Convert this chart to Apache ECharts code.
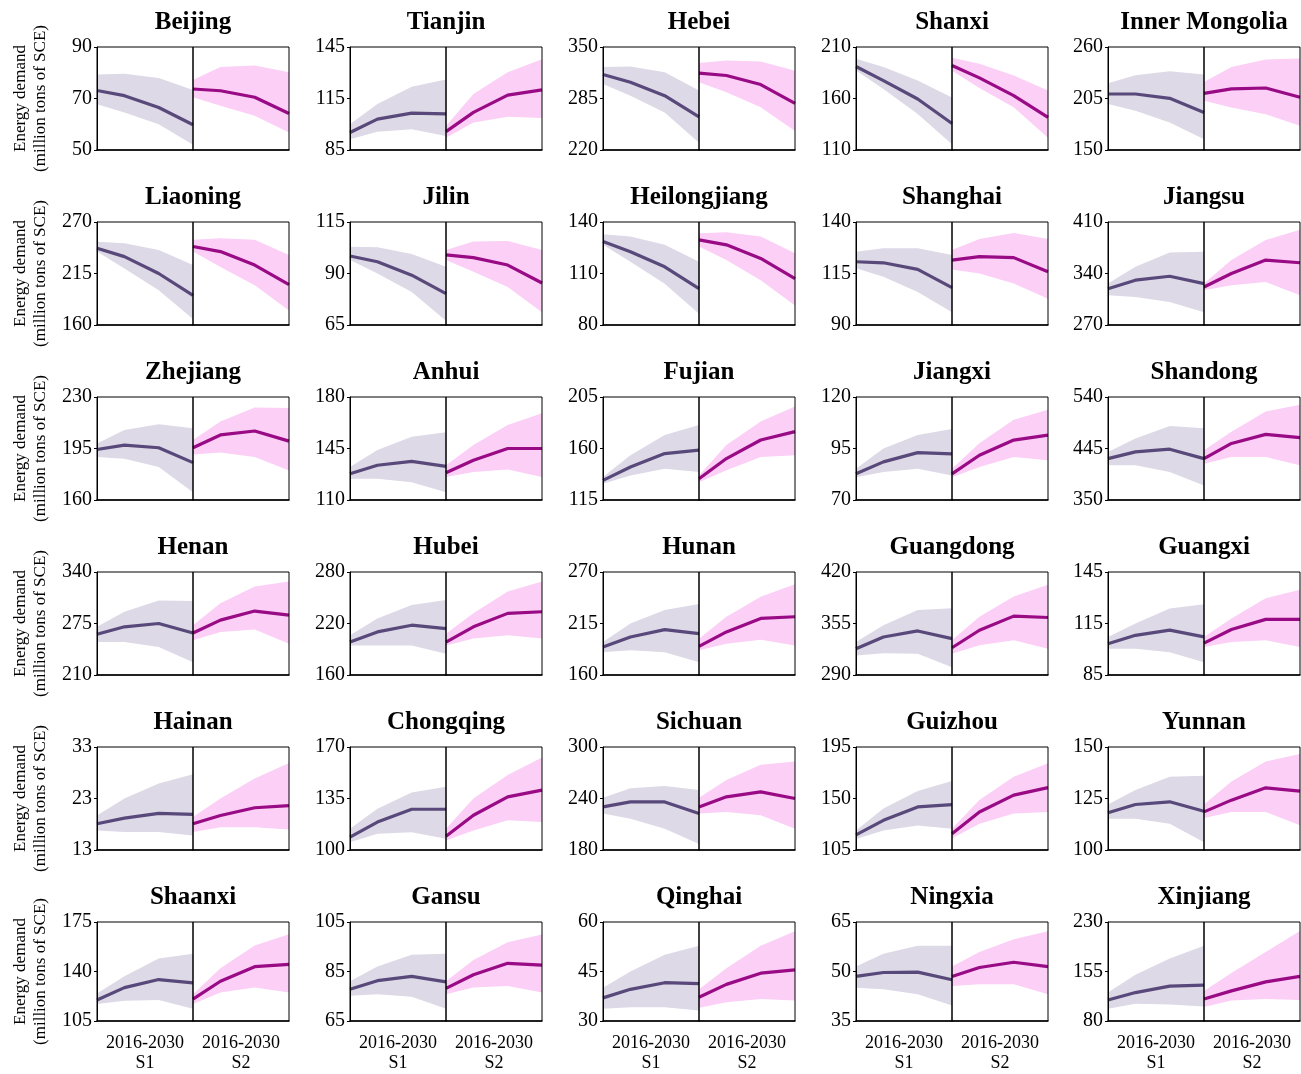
<!DOCTYPE html>
<html>
<head>
<meta charset="utf-8">
<script src="https://cdn.jsdelivr.net/npm/echarts@6/dist/echarts.min.js"></script>
<style>
html,body{margin:0;padding:0;background:#fff;}
#chart{width:1301px;height:1074px;}
</style>
</head>
<body>
<div id="chart"></div>
<script>
const provinces = ['Beijing','Tianjin','Hebei','Shanxi','Inner Mongolia',
  'Liaoning','Jilin','Heilongjiang','Shanghai','Jiangsu',
  'Zhejiang','Anhui','Fujian','Jiangxi','Shandong',
  'Henan','Hubei','Hunan','Guangdong','Guangxi',
  'Hainan','Chongqing','Sichuan','Guizhou','Yunnan',
  'Shaanxi','Gansu','Qinghai','Ningxia','Xinjiang'];
const years = [2016, 2020, 2025, 2030];
const yMin = [50,85,220,110,150, 160,65,80,90,270, 160,110,115,70,350, 210,160,160,290,85, 13,100,180,105,100, 105,65,30,35,80];
const yMax = [90,145,350,210,260, 270,115,140,140,410, 230,180,205,120,540, 340,280,270,420,145, 33,170,300,195,150, 175,105,60,65,230];
const scenarioLabels = ['2016-2030\nS1', '2016-2030\nS2'];
const yAxisName = 'Energy demand\n(million tons of SCE)';

const s1Line = [
 [73.1,71.1,66.5,59.8],[95.2,103,106.5,106.1],[315.3,305.5,288.6,261.9],[191.1,177.4,159.5,135.7],[209.8,209.8,205.2,190.1],
 [242,233,215,191.6],[98.5,95.7,89.2,80.2],[128.6,122.7,113.9,101.2],[120.7,120.2,117,108.1],[319.4,330.9,336.3,326.3],
 [194.3,197.3,195.5,185.4],[127.8,133.6,136.3,132.9],[132.1,143.8,155.6,158.5],[82.7,88.5,93,92.4],[426.4,438.7,443.7,426.4],
 [261.4,270.8,275,263],[198.4,210.2,218,214.1],[189.8,200.6,208.5,204.2],[323.1,338,345.6,335.9],[103.2,108.1,111.1,107.2],
 [18.1,19.2,20.1,19.9],[108.7,119,127.7,127.7],[230.2,236,236,222.4],[118.2,130.9,142.6,144.7],[118.1,122.1,123.4,118.8],
 [119.9,128.6,134.3,132],[77.8,81.3,83,80.8],[37,39.6,41.6,41.3],[48.5,49.7,49.8,47.5],[111.9,123.1,132.9,134.4]
];
const s1Upper = [
 [79.3,79.6,78,73.3],[100,111.8,121.9,126],[324.6,325.4,318,295],[198.6,190.5,177.4,161],[221.4,229.7,234,230.6],
 [249,247.4,240,224],[103,102.7,99.5,93.3],[132.9,131.6,126.7,116.9],[125.6,127.3,127.3,124],[326.3,349.2,368.4,369.7],
 [198.4,207.6,211.5,208.7],[132.4,143.9,153,156],[135,154.2,171.8,180.6],[85.2,95,101.5,104.5],[438.7,463.6,486.6,482.2],
 [270.8,289.9,303.9,303.5],[206.3,225.9,241.6,247.5],[195.2,215,229.4,235.9],[331.6,352.9,372,374.1],[107.2,115,123.8,126.2],
 [19.7,23,25.9,27.7],[114.4,128.1,139.1,143],[240.8,251.8,254.5,249.8],[122.1,141.2,156.5,165.3],[122.1,129.1,135.6,136],
 [124.5,136.6,149.2,152.6],[81.1,87,91.8,92.2],[40.1,45,50.1,52.8],[51.5,55.4,57.8,57.8],[123.1,150,174.6,194.2]
];
const s1Lower = [
 [67.8,64.6,60,52],[91.3,95.7,97.1,93.2],[303.4,288.6,267.4,229.3],[187.2,169.3,144.9,115.5],[199,191.9,179.4,161.5],
 [238.4,220.4,197,166.5],[96.5,90,81,67.1],[126.7,116.9,104.1,86.5],[117.5,113.4,106,96.2],[310.3,308,301.1,287.4],
 [189.3,188.1,182.4,165.3],[124.4,124.4,122.1,115.3],[129.1,136.5,142.4,139.4],[81.1,83.6,85.2,81.9],[414,414,401.5,376.7],
 [251.6,251.6,245.3,226.1],[194.5,194.5,194.5,184.7],[184.4,186.3,184.4,173.7],[314.7,317.6,316.8,299.8],[100.3,100.3,98.3,92.4],
 [16.8,16.5,16.5,15.8],[105.3,111,112.1,107.6],[222.4,216.5,204.7,187.1],[114.7,122.1,126.5,123.5],[115.2,115.2,112.7,103.8],
 [117.1,119.4,119.9,113.7],[75.2,75.8,74.8,70],[33.7,34.2,34.2,33.2],[45.1,44.6,43.1,39.7],[98.6,106,105,102]
];
const s2Line = [
 [73.7,73,70.5,64.2],[95.7,106.9,117,120],[317,314,302.6,278.9],[192.1,180,162.8,141.6],[210.5,215.2,216.2,206.3],
 [243.8,238.4,224,203],[99,97.7,94.1,85.4],[129.6,126.7,118.8,107],[121.5,123.2,122.7,115.8],[321.7,340,358.3,354.6],
 [195.5,204.2,206.9,200],[128.5,137,145,145],[133.5,151.2,167.4,174.7],[82.7,91.7,99.1,101.5],[426.4,454.3,471,464.9],
 [263,279.3,290.7,285.6],[198.4,216.1,231.8,233.7],[190.6,206,220.4,222.2],[324.4,346.5,364.3,362.6],[103.6,111.5,117.4,117.4],
 [18.1,19.7,21.2,21.6],[109.4,123.6,136.1,140.7],[230.2,241.9,247.8,240],[119.1,138.2,153,159.5],[118.5,124.2,130.2,128.6],
 [120.5,133.1,143.4,145],[78.2,83.7,88.3,87.6],[37.2,41.1,44.5,45.5],[48.5,51.2,52.8,51.5],[113.3,125.6,139.3,147.6]
];
const s2Upper = [
 [77.2,82.2,82.8,80.2],[99,117.6,130.3,137.8],[329.7,333,331.8,320],[199.6,193.7,182.3,167.7],[222.5,238.7,246.6,247.7],
 [251,252.7,251,234.8],[101.4,105.5,105.8,101.4],[133.5,134.1,131.6,121.8],[126.4,131.7,134.6,131.7],[326.3,358.3,385.7,399.4],
 [200.7,213.3,222.9,222.5],[133.6,147.3,161,169],[136.5,163,183.5,196.7],[85.2,97.5,108.9,113.8],[441.9,476,513.2,525.7],
 [272.9,300.5,321.7,328],[208.2,231.8,257.3,269],[198.8,222.2,243.7,257],[333.8,363.5,389,403.9],[107.2,117.9,129.7,134.6],
 [19.4,23,26.9,29.9],[114.4,135,151,162.9],[240.8,261.6,279.2,283.1],[123.5,148.6,169.1,180.9],[122.1,133.2,143,146.6],
 [124,142.3,158.3,166.3],[81.1,89.6,96.8,100],[39.6,46,52.8,57.2],[51.5,55.9,59.8,62.2],[125.6,152.6,184.4,216.2]
];
const s2Lower = [
 [70.5,67.2,63.3,56.8],[92.2,101,104.4,103.6],[305.5,292.8,273.8,244],[187,170.3,151.5,122],[202.6,195.4,188.3,175.8],
 [238.4,222,202.4,175.5],[96.5,90.8,83.5,71.2],[125.7,117.8,106.1,91.4],[117,115,110.1,102.7],[317.1,324,328.6,310.3],
 [190.9,192.3,189.3,180.1],[125.6,129,130.8,125.6],[130.6,140.9,152.6,154.1],[81.1,86,90.9,89.3],[417,429.5,429.5,414],
 [253.8,264.4,267.4,249.5],[194.5,202.4,206.3,202.4],[186.3,193.4,197.7,191.6],[316.8,327.4,333.8,323.1],[101.3,104.2,105.2,101.3],
 [16.5,17.4,17.4,17],[106.4,113.3,120.2,119],[222.4,224.3,220.4,204.7],[115.3,128,136.8,138.2],[115.5,118.5,118.5,112],
 [117.1,125.2,128.6,125.2],[75.8,78.5,79.1,76.5],[34,35.7,36.7,36.2],[45.6,46.1,46.1,43.1],[101.1,110.9,113.3,111.9]
];

// ---- layout & style (not data) ----
const colLeft = [97, 350, 603, 856, 1108];
const halfW = 96, plotH = 103, rowTop0 = 47, rowStep = 175;
const FONT = 'Liberation Serif';
const styles = [
  {band: '#ddd9e7', line: '#58497a'},
  {band: '#fbcff6', line: '#990a85'}
];
const lineSets = [[s1Line, s1Upper, s1Lower], [s2Line, s2Upper, s2Lower]];

function bandRenderer(up, lo, color) {
  return function (params, api) {
    if (params.dataIndex !== 0) return null;
    const pts = [];
    for (let k = 0; k < years.length; k++) pts.push(api.coord([years[k], up[k]]));
    for (let k = years.length - 1; k >= 0; k--) pts.push(api.coord([years[k], lo[k]]));
    return {type: 'polygon', shape: {points: pts}, style: {fill: color, stroke: null}};
  };
}

const grids = [], xAxes = [], yAxes = [], series = [], titles = [];
provinces.forEach((name, i) => {
  const r = Math.floor(i / 5), c = i % 5;
  const top = rowTop0 + r * rowStep;
  titles.push({
    text: name, left: colLeft[c] + halfW, top: top - 37, textAlign: 'center', padding: 0,
    textStyle: {fontFamily: FONT, fontWeight: 'bold', fontSize: 25, color: '#000'}
  });
  const mid = (yMin[i] + yMax[i]) / 2;
  for (let h = 0; h < 2; h++) {
    const gi = grids.length;
    grids.push({left: colLeft[c] + h * halfW, top: top, width: halfW, height: plotH, z: 5,
      show: true, borderColor: '#000', borderWidth: 1, backgroundColor: 'transparent', containLabel: false});
    const xa = {type: 'value', gridIndex: gi, min: 2016, max: 2030, z: 6,
      axisLine: {show: true, onZero: false, lineStyle: {color: '#000', width: 1.5}},
      axisTick: {show: false}, axisLabel: {show: false}, splitLine: {show: false}};
    if (r === 5) {
      Object.assign(xa, {name: scenarioLabels[h], nameLocation: 'middle', nameGap: 12,
        nameTextStyle: {fontFamily: FONT, fontSize: 18, color: '#000', lineHeight: 20, verticalAlign: 'top'}});
    }
    xAxes.push(xa);
    const ya = {type: 'value', gridIndex: gi, min: yMin[i], max: yMax[i], interval: (yMax[i] - yMin[i]) / 2,
      splitLine: {show: false}, z: 6};
    if (h === 0) {
      Object.assign(ya, {
        axisLine: {show: true, lineStyle: {color: '#000', width: 1}},
        axisTick: {show: true, length: 3, lineStyle: {color: '#000'}, customValues: [yMin[i], mid, yMax[i]]},
        axisLabel: {show: true, margin: 5, fontFamily: FONT, fontSize: 20, color: '#000', customValues: [yMin[i], mid, yMax[i]]}
      });
      if (c === 0) {
        Object.assign(ya, {name: yAxisName, nameLocation: 'middle', nameRotate: 90, nameGap: 46,
          nameTextStyle: {fontFamily: FONT, fontSize: 17, color: '#000', lineHeight: 20}});
      }
    } else {
      Object.assign(ya, {axisLine: {show: false}, axisTick: {show: false}, axisLabel: {show: false}});
    }
    yAxes.push(ya);
    const [ln, up, lo] = lineSets[h];
    const st = styles[h];
    series.push({type: 'custom', xAxisIndex: gi, yAxisIndex: gi, silent: true, z: 1,
      renderItem: bandRenderer(up[i], lo[i], st.band),
      encode: {x: 0, y: [1, 2]},
      data: years.map((y, k) => [y, lo[i][k], up[i][k]])});
    series.push({type: 'line', xAxisIndex: gi, yAxisIndex: gi, silent: true, symbol: 'none', z: 3,
      lineStyle: {color: st.line, width: 3.2}, data: years.map((y, k) => [y, ln[i][k]])});
  }
});

const chart = echarts.init(document.getElementById('chart'), null, {renderer: 'canvas'});
chart.setOption({
  animation: false,
  backgroundColor: '#fff',
  title: titles,
  grid: grids, xAxis: xAxes, yAxis: yAxes, series: series
});
</script>
</body>
</html>
